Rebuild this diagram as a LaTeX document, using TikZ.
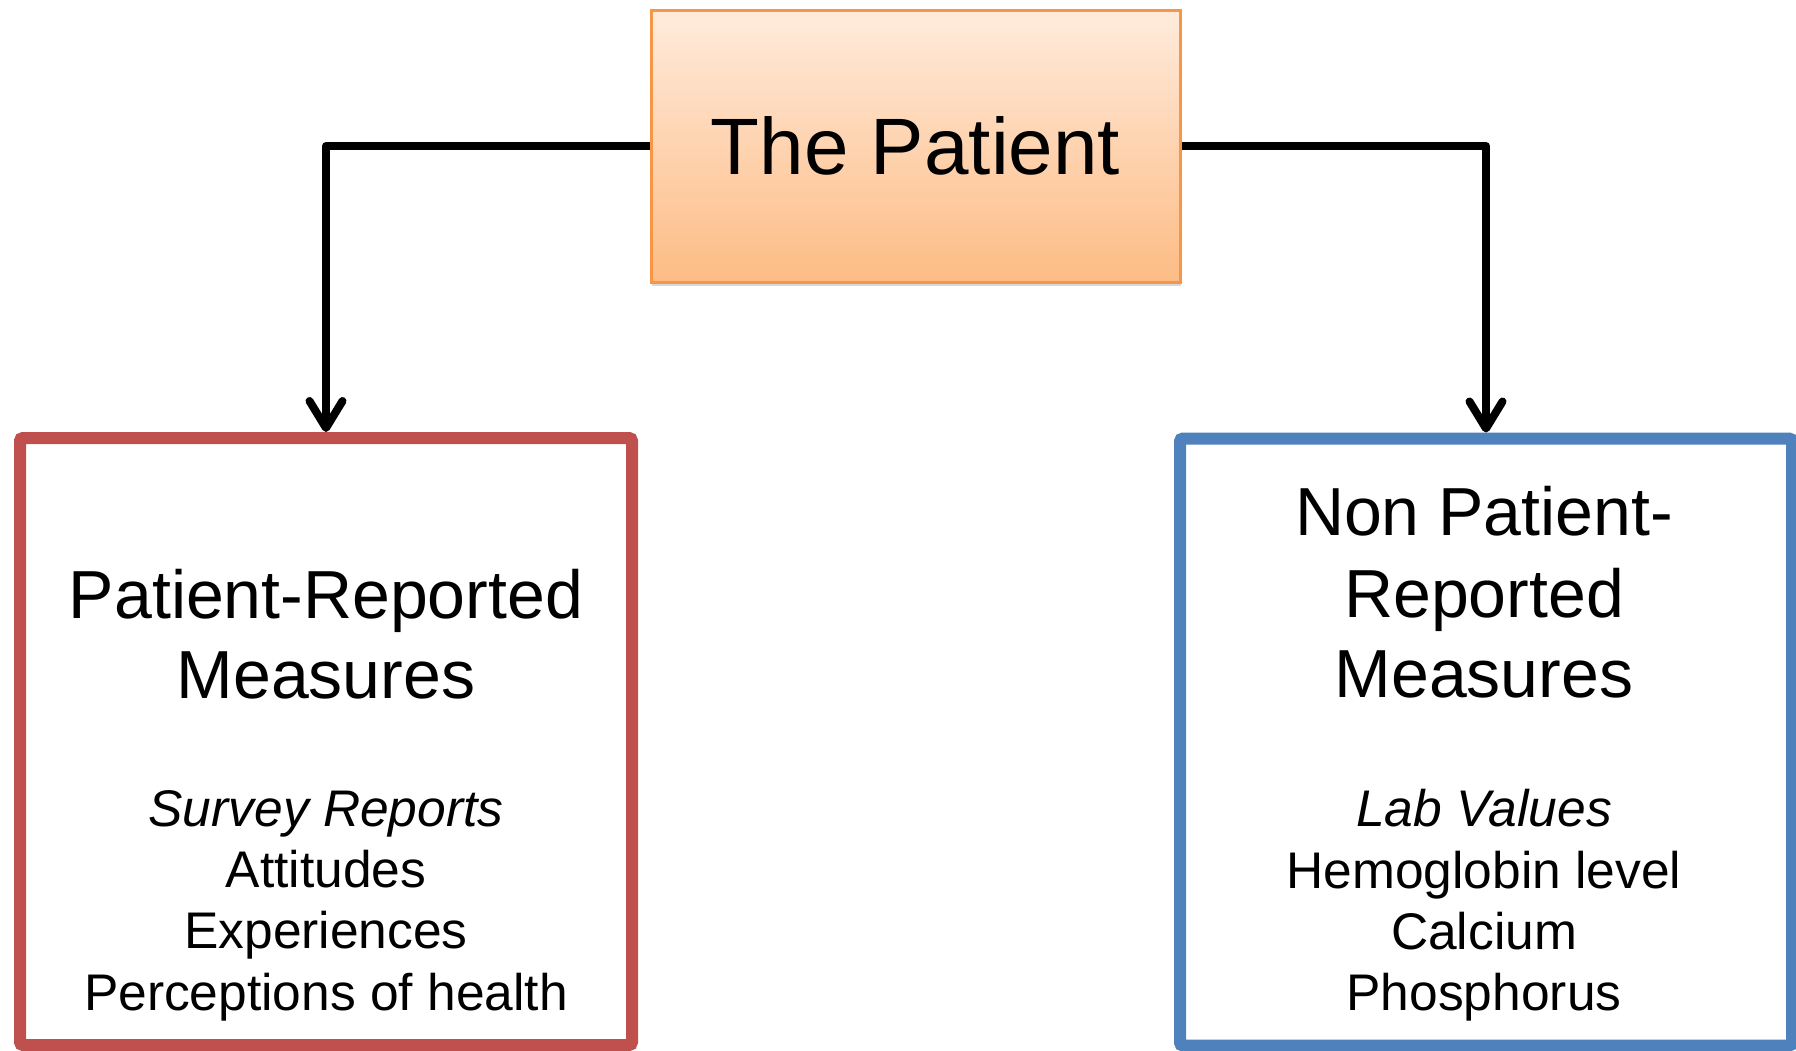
\documentclass[tikz,border=0pt]{standalone}
\usepackage{fontspec}
\setmainfont{Liberation Sans}
\usetikzlibrary{arrows.meta,shadows}
\definecolor{prmred}{HTML}{C0504D}
\definecolor{nprmblue}{HTML}{4F81BD}
\definecolor{orangeedge}{HTML}{F79646}
\definecolor{peachtop}{HTML}{FFEBDC}
\definecolor{peachbot}{HTML}{FDBC85}

\begin{document}
\begin{tikzpicture}[x=1pt,y=-1pt,
  patientbox/.style={draw=orangeedge, line width=3pt, top color=peachtop,
    bottom color=peachbot, minimum width=529pt, minimum height=272pt, inner sep=0pt,
    font=\fontsize{80}{96}\selectfont,
    drop shadow={opacity=0.3, shadow xshift=1pt, shadow yshift=-4pt}},
  measurebox/.style={line width=12pt, rounded corners=3pt, minimum width=612pt,
    minimum height=607pt, inner sep=0pt},
  conn/.style={line width=8pt, line join=round,
    -{Straight Barb[length=27pt,width=33pt,line join=round,line cap=round]}},
  head/.style={font=\fontsize{68}{80}\selectfont, anchor=base, inner sep=0pt},
  entry/.style={font=\fontsize{51.5}{60}\selectfont, anchor=base, inner sep=0pt},
]
% page frame
\fill[white] (0,0) rectangle (1796,1050);
\useasboundingbox (0,0) rectangle (1796,1050);

% top box
\node[patientbox] (patient) at (915.5,146) {The Patient};

% measure boxes
\node[measurebox, draw=prmred] (prm) at (326,741.5) {};
\node[measurebox, draw=nprmblue] (nprm) at (1486,742) {};

% left box text
\node[head] (prmA) at (326,618) {Patient-Reported};
\node[head] (prmB) at (326,698) {Measures};
\node[entry] (prmC) at (326,826) {\itshape Survey Reports};
\node[entry] (prmD) at (326,887) {Attitudes};
\node[entry] (prmE) at (326,948) {Experiences};
\node[entry] (prmF) at (326,1010) {Perceptions of health};

% right box text
\node[head] (nprmA) at (1484,535) {Non Patient-};
\node[head] (nprmB) at (1484,617) {Reported};
\node[head] (nprmC) at (1484,697) {Measures};
\node[entry] (nprmD) at (1484,826) {\itshape Lab Values};
\node[entry] (nprmE) at (1484,888) {Hemoglobin level};
\node[entry] (nprmF) at (1484,949) {Calcium};
\node[entry] (nprmG) at (1484,1010) {Phosphorus};

% connectors
\draw[conn] (patient.west) -| (prm.north);
\draw[conn] (patient.east) -| (nprm.north);
\end{tikzpicture}
\end{document}
